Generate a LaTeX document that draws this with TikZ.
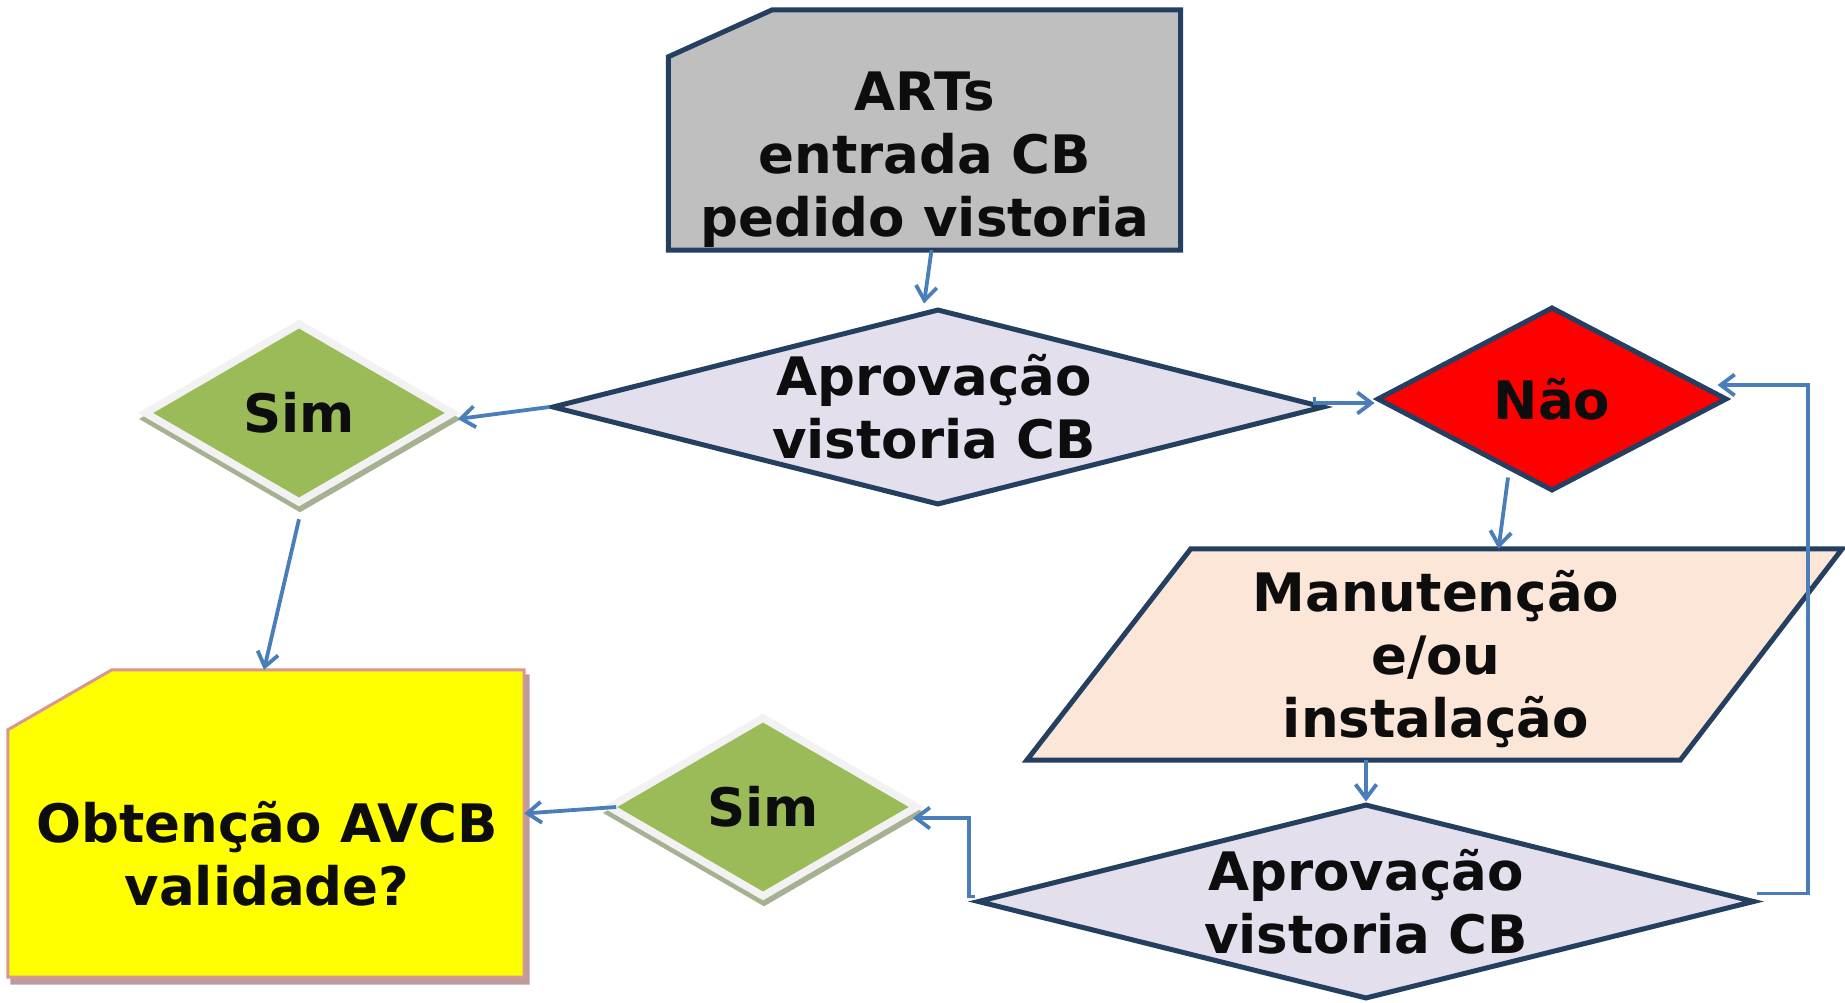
\documentclass[tikz,border=0pt]{standalone}
\usepackage{fontspec}
\setmainfont{DejaVu Sans}
\usetikzlibrary{shapes.geometric,arrows.meta,shadows}

\definecolor{azulseta}{HTML}{4A7EBB}
\definecolor{azulescuro}{HTML}{243F60}
\definecolor{cinza}{HTML}{BFBFBF}
\definecolor{lilas}{HTML}{E4DFEC}
\definecolor{pessego}{HTML}{FBE6D8}
\definecolor{verde}{HTML}{9BBB59}
\definecolor{cinzaclaro}{HTML}{F2F2F2}
\definecolor{sombraverde}{HTML}{A5B191}
\definecolor{rosa}{HTML}{D99694}
\definecolor{sombrarosa}{HTML}{BA9C9C}
\definecolor{amarelo}{HTML}{FFFF00}
\definecolor{preto}{HTML}{0D0D0D}

\begin{document}
\begin{tikzpicture}[x=1pt,y=-1pt,
		seta/.style={draw=azulseta,line width=3.8pt,-{Straight Barb[length=14pt,width=21pt]}},
		contorno/.style={draw=azulescuro,line width=5pt},
		rotulo/.style={font=\bfseries\fontsize{53}{63}\selectfont,text=preto,align=center,inner sep=0pt},
		caixa/.style={inner sep=0pt},
		losango/.style={diamond,contorno,rotulo,fill=lilas,minimum width=772pt,minimum height=196pt},
		sim/.style={diamond,rotulo,draw=cinzaclaro,line width=7.5pt,fill=verde,minimum width=310pt,minimum height=181pt,
			drop shadow={shadow xshift=1pt,shadow yshift=-6pt,opacity=1,fill=sombraverde,draw=sombraverde,line width=7.5pt}}]
	\useasboundingbox (0,0) rectangle (1845,1003);

	\node[caixa,minimum width=512pt,minimum height=240pt] (arts) at (924.5,130) {};
	\draw[contorno,fill=cinza] (arts.south west) -- (arts.south east) -- (arts.north east)
		-- ([xshift=104pt]arts.north west) -- ([yshift=-47pt]arts.north west) -- cycle;
	\node[rotulo] (artstxt) at (925,160) {ARTs\\entrada CB\\pedido vistoria};

	\node[caixa,minimum width=516pt,minimum height=307pt] (obt) at (266,823.5) {};
	\draw[draw=sombrarosa,fill=sombrarosa,line width=3pt,transform canvas={xshift=4pt,yshift=-6pt}]
		(obt.south west) -- (obt.south east) -- (obt.north east)
		-- ([xshift=104pt]obt.north west) -- ([yshift=-60pt]obt.north west) -- cycle;
	\draw[draw=rosa,fill=amarelo,line width=3pt] (obt.south west) -- (obt.south east) -- (obt.north east)
		-- ([xshift=104pt]obt.north west) -- ([yshift=-60pt]obt.north west) -- cycle;
	\node[rotulo] (obttxt) at (267,854) {Obtenção AVCB\\validade?};

	\node[caixa,minimum width=815pt,minimum height=211pt] (manut) at (1434.5,654.5) {};
	\draw[contorno,fill=pessego] (manut.south west) -- ([xshift=-162pt]manut.south east)
		-- (manut.north east) -- ([xshift=164pt]manut.north west) -- cycle;
	\node[rotulo] (manuttxt) at (1436,659) {Manutenção\\e/ou\\instalação};

	\node[losango] (aprov1) at (938,407) {};
	\node[rotulo] (aprov1txt) at (934,407) {Aprovação\\vistoria CB};
	\node[losango,fill=red,minimum width=350pt,minimum height=184pt] (nao) at (1552,399) {Não};
	\node[losango,minimum width=777pt,minimum height=195pt] (aprov2) at (1366,901.5) {};
	\node[rotulo] (aprov2txt) at (1366,902) {Aprovação\\vistoria CB};
	\node[sim] (simA) at (299,413) {Sim};
	\node[sim] (simB) at (763,807) {Sim};

	\draw[seta] ([xshift=7pt]arts.south) -- ([xshift=-14pt,yshift=3pt]aprov1.north);
	\draw[seta] (aprov1.west) -- ([yshift=-6pt]simA.east);
	\draw[seta] ([xshift=-12pt,yshift=10pt]aprov1.east) |- ([yshift=-4pt]nao.west);
	\draw[seta] ([xshift=-44pt,yshift=16pt]nao.south) -- ([xshift=64pt]manut.north);
	\draw[seta] ([yshift=8pt]aprov2.east) -- ++(51,0) |- ([xshift=-12pt,yshift=14pt]nao.east);
	\draw[seta] (aprov2.north |- manut.south) -- (aprov2.north);
	\draw[seta] ([yshift=5pt]aprov2.west) -- ++(-6,0) |- ([xshift=-9pt,yshift=-11pt]simB.east);
	\draw[seta] ([xshift=12pt]simB.west) -- ([yshift=10pt]obt.east);
	\draw[seta] ([yshift=-12pt]simA.south) -- ([xshift=-2pt]obt.north);
\end{tikzpicture}
\end{document}
